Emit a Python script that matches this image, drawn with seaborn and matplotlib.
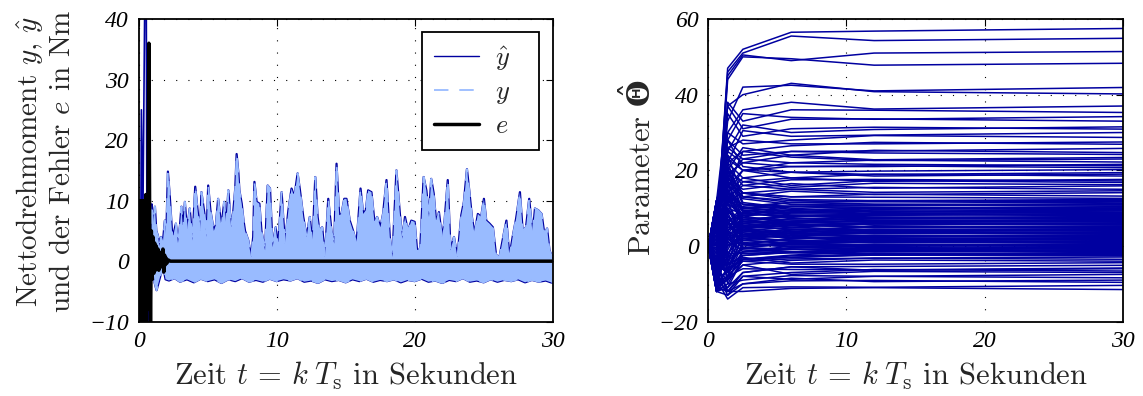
import numpy as np
import pandas as pd
import matplotlib
matplotlib.use('Agg')
import matplotlib.pyplot as plt
from matplotlib.lines import Line2D
from matplotlib.font_manager import FontProperties
import seaborn as sns

# ---- left panel: y / y_hat / e ----
# upper envelope of the dense y signal (peaks and valleys)
t_top = [0.90, 0.95, 1.05, 1.18, 1.28, 1.40, 1.50, 1.62, 1.75, 1.90, 2.00, 2.12, 2.26, 2.46, 2.58,
         2.70, 2.85, 3.00, 3.10, 3.22, 3.35, 3.50, 3.70, 3.90, 4.10, 4.30, 4.45, 4.55, 4.80, 4.92,
         5.04, 5.20, 5.45, 5.60, 5.76, 6.00, 6.20, 6.35, 6.50, 6.70, 6.85, 7.00, 7.10, 7.23, 7.30,
         7.47, 7.60, 7.71, 7.95, 8.15, 8.30, 8.39, 8.55, 8.75, 8.90, 9.16, 9.35, 9.52, 9.71, 9.93,
         10.10, 10.36, 10.60, 10.85, 11.08, 11.28, 11.52, 11.69, 11.93, 12.17, 12.40, 12.60, 12.80,
         12.97, 13.10, 13.30, 13.50, 13.74, 13.97, 14.17, 14.34, 14.53, 14.70, 14.90, 15.06, 15.30,
         15.54, 15.79, 16.08, 16.27, 16.46, 16.63, 16.87, 17.10, 17.28, 17.52, 17.71, 17.96, 18.20,
         18.39, 18.68, 18.92, 19.10, 19.30, 19.52, 19.76, 20.00, 20.20, 20.41, 20.65, 20.85, 21.04,
         21.20, 21.38, 21.57, 21.76, 21.98, 22.17, 22.40, 22.60, 22.85, 23.10, 23.38, 23.57, 23.79,
         23.98, 24.15, 24.34, 24.58, 24.82, 25.02, 25.19, 25.43, 25.67, 25.90, 26.15, 26.46, 26.65,
         26.87, 27.10, 27.35, 27.63, 27.83, 28.07, 28.30, 28.55, 28.72, 28.96, 29.20, 29.40, 29.60,
         29.77, 30.00]
y_top = [2.0, 9.4, 6.0, 9.0, 5.0, 4.2, 2.5, 4.0, 3.0, 6.7, 4.0, 14.8, 10.6, 3.4, 5.0,
         6.2, 3.0, 6.0, 9.0, 5.0, 9.8, 5.0, 8.7, 3.4, 12.3, 7.8, 5.0, 11.4, 7.3, 4.0,
         12.5, 8.4, 5.0, 6.0, 10.3, 5.6, 9.8, 6.0, 11.7, 5.6, 8.0, 12.0, 17.7, 14.5, 11.7,
         9.5, 6.7, 5.0, 3.4, 0.7, 4.0, 13.1, 9.8, 9.5, 5.0, 1.8, 12.5, 12.0, 2.3, 5.6,
         2.3, 11.4, 2.9, 8.4, 12.0, 10.6, 14.5, 11.7, 7.3, 4.0, 7.3, 2.9, 13.9,
         7.3, 5.0, 5.6, 0.7, 10.3, 5.0, 2.9, 16.1, 7.6, 7.8, 10.3, 10.3, 6.7,
         5.0, 2.9, 12.0, 7.8, 8.4, 11.7, 11.4, 6.2, 7.3, 5.6, 7.8, 13.4, 4.0,
         0.7, 15.0, 8.1, 3.7, 7.3, 5.0, 6.7, 6.5, 1.2, 2.3, 13.9, 11.7, 7.3,
         13.6, 11.2, 6.2, 8.1, 4.0, 6.7, 13.4, 1.8, 4.0, 0.7, 7.6, 9.8, 15.2,
         11.2, 7.3, 4.5, 7.8, 7.3, 10.3, 6.7, 6.2, 5.6, 1.0, 0.7, 4.5, 6.7,
         0.7, 4.0, 7.0, 11.4, 5.0, 5.6, 10.3, 4.5, 8.7, 8.4, 7.8, 4.5, 5.4,
         1.8, 0.5]
# lower edge of the y band
t_low = [0.90, 1.05, 1.15, 1.30, 1.45, 1.60, 1.80, 1.95, 2.2, 2.6, 3.0, 3.5, 4.0, 4.5, 5.0,
         5.5, 6.0, 6.5, 7.0, 7.5, 8.0, 8.5, 9.0, 9.5, 10.0, 10.5, 11.0, 11.5, 12.0, 12.5,
         13.0, 13.5, 14.0, 14.5, 15.0, 15.5, 16.0, 16.5, 17.0, 17.5, 18.0, 18.5, 19.0, 19.5,
         20.0, 20.5, 21.0, 21.5, 22.0, 22.5, 23.0, 23.5, 24.0, 24.5, 25.0, 25.5, 26.0, 26.5,
         27.0, 27.5, 28.0, 28.5, 29.0, 29.5, 30.0]
y_low = [-3.0, -1.0, -3.5, -4.8, -3.5, -2.2, -1.2, -3.0, -3.2, -2.8, -3.4, -3.0, -3.5, -2.9, -3.3,
         -3.0, -3.6, -3.0, -3.3, -2.8, -3.4, -3.1, -3.4, -2.9, -3.3, -3.0, -3.2, -2.8, -3.4, -3.2,
         -3.6, -3.0, -3.3, -3.1, -3.5, -3.0, -3.3, -2.9, -3.4, -3.1, -3.3, -3.0, -3.5, -3.1,
         -3.3, -2.9, -3.4, -3.2, -3.6, -3.1, -3.3, -2.8, -3.4, -3.2, -3.5, -3.0, -3.4, -3.1,
         -3.3, -3.0, -3.5, -3.1, -3.4, -3.2, -3.6]
# start-up of the estimate y_hat
t_yhat0 = [0.00, 0.12, 0.20, 0.30, 0.45, 0.55, 0.62, 0.70, 0.78, 0.85, 0.90]
yhat0 = [0.0, -12.0, 25.0, 5.0, 45.0, 45.0, -12.0, -2.0, -12.0, -4.0, 2.0]
# error e
t_err = [0.00, 0.04, 0.08, 0.12, 0.16, 0.20, 0.24, 0.28, 0.32, 0.36, 0.40, 0.44, 0.48, 0.52,
         0.56, 0.60, 0.64, 0.68, 0.74, 0.80, 0.86, 0.92, 0.98, 1.04, 1.10, 1.16, 1.22, 1.28,
         1.34, 1.40, 1.46, 1.52, 1.58, 1.64, 1.70, 1.76, 1.82, 1.88, 1.94, 2.00, 2.06, 2.14,
         2.30, 30.0]
err = [0.0, 9.0, -8.0, 10.0, -12.0, 9.0, -12.0, 10.0, -11.0, 9.0, -12.0, 10.0, -10.0, 11.0,
       -12.0, 9.0, -8.0, 10.0, 36.0, 6.0, -12.0, 5.0, -3.0, 4.0, -2.0, 3.0, -1.5, 2.5,
       -1.2, 2.0, -1.5, 1.5, -1.0, 1.2, -0.8, 2.0, -1.8, 1.0, -0.6, 0.5, -0.3, 0.2,
       0.0, 0.0]

# ---- right panel: parameter estimates, value of each parameter at the knot times ----
# groups per row: upper / mid / core / core 2 / lower / lower 2 / core 3
knot_t = [0.0, 0.6, 1.4, 2.5, 6.0, 12.0, 30.0]
theta_start = 0.0
theta_06 = [4, 3, 5, 2, 6, 8, 10, -2, 7, 12, 5, -5, 9, 3, 11, -3, 6, 10, 2, -6, 8, 12, 4, -4, 9, 1, 11, -8, 6, 3,
            7, -9, 10, 3, -11, 12, 5, -7,
            12, -10, 8, -12, 11, -7, 10, -9, -0.6, -11, 12, -4, 9, -12, 7, -8, 12, -6, 10, -10, 1, -12, 11, -3,
            8, -9, 12, -5, -1.5, -11, 10, -7, 6, -12, 9, -2, 0.2, -10,
            -11, 9, -6, 12, -8, 0.5, -12, 10, -1, 11, -10, 7, -5, 12, -9, 0, 10, -12, 6, -7,
            11, -4, 9, -11, -0.5, 12, -8, 5, -10, 8, -6, 11, 0.8, 7, -12, 1.5,
            -6, 2, -8, -10, -4, -12, -7, -11, -9, -5,
            -3, -9, 1, -12,
            5, -3, 9, -6, 2, -9, 11, -1, 7, -4, 10, -8, 3, -12, 8, -5, 12, -2, 6, -10]
theta_14 = [47, 46, 45, 44, 33, 37, 30, 38, 28, 37, 25, 35, 22, 30, 26, 22, 28, 20, 25, 18, 24, 19, 22, 16, 20, 14, 18, 13, 17, 12,
            26, 15, 23, 28, 14, 21, 12, 19,
            20, 6, 18, 3, 16, 14, 2, 22, 12, 0, 15, 10, -4, 19, 5, 12, -2, 9, 14, -6, 7, 2, 11, -8,
            5, 8, -5, 3, 10, -9, 2, 6, -7, 4, -10, 1, -6, -8,
            4, 17, 9, 24, -3, 13, 7, 20, -5, 16, 1, 11, -7, 21, 3, 9, 17, -8, 13, -2,
            15, 0, 10, -6, 6, 18, -4, 8, -9, 12, -3, 7, -5, 9, -11, 2,
            -9, -6, -11, -8, -12, -10, -13, -12, -14, -12,
            -7, -12, -9, -13,
            11, 4, 14, -1, 9, 2, 13, 6, 0, 8, -3, 5, 10, -5, 4, -7, 6, -2, 3, -8]
theta_25 = [52, 51, 50.5, 50, 42, 40, 36, 33, 35, 31, 32, 29, 30.5, 27, 28, 25, 24, 26, 22, 23, 20, 22, 18, 20, 17, 18, 15, 16, 13, 14,
            23, 25, 20, 21, 20, 16, 17, 14,
            14, 10.5, 13, 9, 12.5, 11, 8, 11.5, 10, 6.5, 9.5, 8.5, 5, 9, 5, 7.5, 4, 6.5, 6.5, 2.5, 5, 3, 4.5, 0.5,
            3.5, 3, 0, 2, 2.5, -1.5, 0.5, 0.5, -2.5, -0.5, -3.5, -1, -3.5, -4,
            10, 14, 10, 13, 8.5, 11, 8, 11, 7, 10, 6, 8.5, 5.5, 9, 4.5, 6.5, 7, 3, 6, 2.5,
            5.5, 2, 4, 0.5, 2.5, 4, -0.5, 2, -1.5, 1.5, -1.5, 0.5, -2.5, -0.5, -3.5, -1.5,
            -5, -4, -7, -6, -8, -9, -8, -10, -11, -12,
            -3, -7, -5, -10,
            10, 7, 9.5, 6, 7.5, 5, 8, 5.5, 3, 4.5, 1.5, 3.5, 3, -0.5, 1.5, -1.5, 1, -2, -0.5, -3.5]
theta_6 = [56.5, 55.5, 49, 49.5, 42.5, 43, 38, 36, 34, 33.5, 30, 31, 29, 28, 27, 26.5, 25, 24, 24, 22, 21, 21, 19.5, 18, 18, 16, 16.5, 15, 14.5, 13,
           25, 23.5, 22, 19.5, 19.5, 17.5, 15.5, 15,
           13, 11.5, 12, 10.5, 11, 10.5, 9, 10, 9.2, 7.8, 8.5, 8, 6.5, 7.5, 6, 6.5, 5, 5.8, 5.5, 3.8, 4.5, 3.3, 3.8, 2.0,
           2.8, 2.2, 1.0, 1.6, 1.2, -0.5, 0.4, -0.2, -1.6, -0.8, -2.4, -1.6, -3.0, -3.4,
           11.5, 12.3, 10.5, 11.5, 9.6, 10.4, 8.8, 9.7, 8.0, 8.9, 7.2, 8.0, 6.4, 7.2, 5.6, 6.2, 5.8, 4.2, 5.0, 3.5,
           4.3, 2.8, 3.4, 1.9, 2.6, 2.2, 0.8, 1.4, 0.0, 0.6, -0.9, 0.0, -1.7, -0.9, -2.6, -1.8,
           -3.8, -4.8, -5.5, -6.2, -7.0, -7.8, -8.8, -9.2, -10.8, -11.2,
           -4.5, -5.5, -7.5, -8.5,
           9.4, 7.9, 8.2, 6.6, 6.9, 5.4, 5.8, 4.3, 4.5, 3.1, 3.3, 1.9, 2.1, 0.7, 0.9, -0.5, -0.3, -1.7, -1.5, -3.0]
theta_12 = [56.8, 54.3, 51.0, 47.8, 41.0, 40.8, 36.2, 35.9, 33.5, 33.6, 30.8, 31.4, 29.3, 29.2, 27.0, 27.4, 25.1, 25.3, 22.8, 22.7,
            21.0, 21.2, 18.9, 19.0, 17.1, 17.3, 15.3, 15.5, 13.6, 13.7,
            24.6, 22.6, 21.6, 19.8, 18.5, 17.6, 16.6, 14.2,
            12.9, 11.8, 11.7, 10.6, 10.8, 9.7, 9.9, 8.9, 9.1, 8.1, 8.4, 7.2, 7.5, 6.5, 6.6, 5.5, 5.9, 4.8, 5.0, 4.0,
            4.2, 3.2, 3.4, 2.3, 2.6, 1.6, 1.8, 0.8, 1.0, -0.1, 0.2, -0.8, -0.6, -1.6, -1.4, -2.4, -2.2, -3.2,
            12.0, 12.0, 10.9, 11.1, 10.0, 10.2, 9.2, 9.3, 8.3, 8.5, 7.5, 7.7, 6.7, 6.9, 5.8, 6.0, 5.0, 5.2, 4.2, 4.4,
            3.4, 3.6, 2.6, 2.8, 1.8, 2.0, 1.0, 1.2, 0.2, 0.4, -0.6, -0.4, -1.4, -1.2, -2.2, -2.0,
            -3.2, -4.8, -5.4, -6.3, -6.2, -8.0, -8.0, -9.1, -10.9, -11.0,
            -3.7, -6.4, -6.7, -9.4,
            8.6, 8.5, 7.4, 7.3, 6.2, 6.1, 5.0, 4.9, 3.8, 3.7, 2.6, 2.5, 1.4, 1.3, 0.2, 0.1, -1.0, -1.1, -2.2, -2.4]
theta_end = [57.5, 54.9, 51.4, 48.3, 41.9, 40.2, 37.0, 35.3, 34.2, 33.0, 31.5, 30.9, 30.0, 28.7, 27.5, 26.9, 25.8, 24.7, 23.4, 22.2,
             21.6, 20.7, 19.4, 18.5, 17.6, 16.8, 15.9, 15.0, 14.1, 13.2,
             24.2, 23.0, 21.2, 20.2, 19.0, 17.2, 16.2, 14.6,
             12.6, 12.1, 11.4, 11.0, 10.5, 10.1, 9.6, 9.3, 8.8, 8.4, 8.0, 7.5, 7.2, 6.8, 6.3, 5.9, 5.6, 5.1, 4.7, 4.4,
             3.9, 3.5, 3.1, 2.7, 2.3, 1.9, 1.5, 1.1, 0.7, 0.3, -0.1, -0.5, -0.9, -1.3, -1.7, -2.1, -2.5, -2.9,
             12.3, 11.7, 11.2, 10.8, 10.3, 9.9, 9.5, 9.0, 8.6, 8.2, 7.8, 7.4, 7.0, 6.6, 6.1, 5.7, 5.3, 4.9, 4.5, 4.1,
             3.7, 3.3, 2.9, 2.5, 2.1, 1.7, 1.3, 0.9, 0.5, 0.1, -0.3, -0.7, -1.1, -1.5, -1.9, -2.3,
             -3.5, -4.4, -5.1, -5.8, -6.6, -7.5, -8.4, -9.6, -10.4, -11.5,
             -4.0, -6.0, -7.0, -9.0,
             8.9, 8.3, 7.7, 7.1, 6.5, 5.9, 5.3, 4.7, 4.1, 3.5, 2.9, 2.3, 1.7, 1.1, 0.5, -0.1, -0.7, -1.3, -1.9, -2.6]

sns.set_style('white')
plt.rcParams['font.family'] = 'cmr10'
plt.rcParams['mathtext.fontset'] = 'cm'
plt.rcParams['axes.unicode_minus'] = False
plt.rcParams['axes.formatter.use_mathtext'] = True

dark = '#0000a0'
light = '#99bbff'
tick_font = FontProperties(family='Liberation Serif', style='italic', size=17)

fig = plt.figure(figsize=(11.43, 3.96), dpi=100)
ax1 = fig.add_axes([0.1213, 0.1876, 0.3622, 0.7644])
ax2 = fig.add_axes([0.6197, 0.1876, 0.3626, 0.7644])

# y_hat first (it sits under y)
sns.lineplot(x=t_yhat0, y=yhat0, color=dark, lw=1.2, sort=False, estimator=None, ax=ax1)
sns.lineplot(x=t_top, y=y_top, color=dark, lw=1.6, sort=False, estimator=None, ax=ax1)
sns.lineplot(x=t_low, y=y_low, color=dark, lw=1.6, sort=False, estimator=None, ax=ax1)
# y: dense signal -> band between the envelopes, edges dashed
ax1.fill(np.r_[t_top, t_low[::-1]], np.r_[y_top, y_low[::-1]], color=light, lw=0, zorder=2.1)
sns.lineplot(x=t_top, y=y_top, color=light, lw=1.3, ls=(0, (8, 6)), sort=False, estimator=None,
             ax=ax1, zorder=2.2)
sns.lineplot(x=t_low, y=y_low, color=light, lw=1.3, ls=(0, (8, 6)), sort=False, estimator=None,
             ax=ax1, zorder=2.2)
# e on top
sns.lineplot(x=t_err, y=err, color='black', lw=2.5, sort=False, estimator=None, ax=ax1, zorder=3)

handles = [Line2D([], [], color=dark, lw=1.0),
           Line2D([], [], color=light, lw=1.3, ls=(0, (8, 6))),
           Line2D([], [], color='black', lw=2.5)]
leg = ax1.legend(handles, [r'$\hat{y}$' + '   ', r'$y$' + '   ', r'$e$' + '   '], loc='upper right',
                 fontsize=19, fancybox=False, edgecolor='black', framealpha=1, handlelength=1.7,
                 borderaxespad=0.5, labelspacing=0.3, handletextpad=0.6, borderpad=0.45)
leg.get_frame().set_linewidth(1.3)

# parameter trajectories
n_par = len(theta_end)
assert all(len(a) == n_par for a in [theta_06, theta_14, theta_25, theta_6, theta_12])
vals = np.column_stack([np.full(n_par, theta_start), theta_06, theta_14,
                        theta_25, theta_6, theta_12, theta_end])
df = pd.DataFrame({'t': np.tile(knot_t, n_par),
                   'theta': vals.ravel(),
                   'k': np.repeat(np.arange(n_par), len(knot_t))})
sns.lineplot(data=df, x='t', y='theta', units='k', estimator=None, color=dark, lw=1.1,
             sort=False, ax=ax2)

for ax, yt, ylab in [(ax1, [-10, 0, 10, 20, 30, 40], ['\u221210', '0', '10', '20', '30', '40']),
                     (ax2, [-20, 0, 20, 40, 60], ['\u221220', '0', '20', '40', '60'])]:
    ax.set_xlim(0, 30)
    ax.set_ylim(yt[0], yt[-1])
    ax.set_xticks([0, 10, 20, 30], ['0', '10', '20', '30'])
    ax.set_yticks(yt, ylab)
    for lab in ax.get_xticklabels() + ax.get_yticklabels():
        lab.set_fontproperties(tick_font)
    ax.tick_params(direction='in', top=True, right=True, length=5, width=0.8, pad=7, colors='black')
    ax.grid(True, ls=(0, (1, 10)), color='black', lw=0.8)
    ax.set_axisbelow(True)
    for s in ax.spines.values():
        s.set_color('black')
        s.set_linewidth(1.3)
    ax.set_xlabel(r'Zeit $t\,=\,k\;T_\mathrm{s}$ in Sekunden', fontsize=22, labelpad=5)

ax1.set_ylabel('Nettodrehmoment $y$, $\\hat{y}$\nund der Fehler $e$ in Nm', fontsize=21,
               linespacing=1.15)
ax1.yaxis.set_label_coords(-0.152, 0.53)
ax2.set_ylabel(r'Parameter $\hat{\mathbf{\Theta}}$', fontsize=22, math_fontfamily='dejavuserif')
ax2.yaxis.set_label_coords(-0.125, 0.51)

fig.savefig('out.png', dpi=100)
